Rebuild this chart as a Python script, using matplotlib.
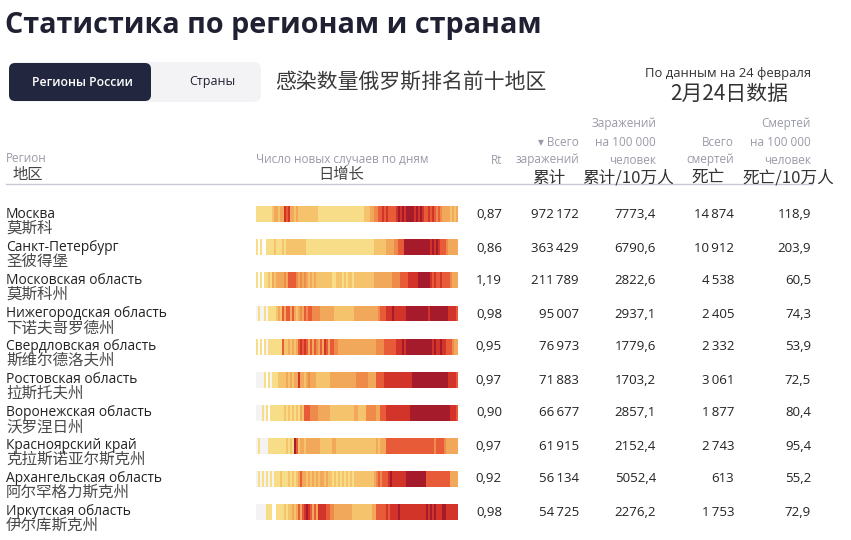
import numpy as np
import matplotlib
matplotlib.use("Agg")
import matplotlib.pyplot as plt
from matplotlib.colors import ListedColormap, BoundaryNorm
from matplotlib.patches import FancyBboxPatch

# ---------------- data ----------------
regions_ru = ["Москва", "Санкт-Петербург", "Московская область", "Нижегородская область",
              "Свердловская область", "Ростовская область", "Воронежская область",
              "Красноярский край", "Архангельская область", "Иркутская область"]
regions_zh = ["莫斯科", "圣彼得堡", "莫斯科州", "下诺夫哥罗德州", "斯维尔德洛夫州",
              "拉斯托夫州", "沃罗涅日州", "克拉斯诺亚尔斯克州", "阿尔罕格力斯克州", "伊尔库斯克州"]
rt = [0.87, 0.86, 1.19, 0.98, 0.95, 0.97, 0.90, 0.97, 0.92, 0.98]
cases = [972172, 363429, 211789, 95007, 76973, 71883, 66677, 61915, 56134, 54725]
cases_per100k = [7773.4, 6790.6, 2822.6, 2937.1, 1779.6, 1703.2, 2857.1, 2152.4, 5052.4, 2276.2]
deaths = [14874, 10912, 4538, 2405, 2332, 3061, 1877, 2743, 613, 1753]
deaths_per100k = [118.9, 203.9, 60.5, 74.3, 53.9, 72.5, 80.4, 95.4, 55.2, 72.9]

# daily new-case intensity level per period (0 = none ... 8 = max), read from strips
daily_moscow = "22222222" "3" "44" "3" "44" "767" "4" "4343" "333333333" + "2" * 23 + \
    "333" "445" "56" "67676" "666" "787878" "888" "78787" "66" "767" "6565" "4444" "3434"
daily_spb = "20200" "222232223233" "33333333" + "2" * 34 + "333333" "4444" "55" "666" + \
    "8" * 13 + "78787" "666" "54" "4444"
daily_mo = "20202" "232" "434" "444" "54" "6666" "545" "454" "343433" "333333" "22" "33323" \
    "23" "32" + "3" * 10 + "4444" "44444" "55" "556666" "77777" "888888" "767" "6676666" "5444"
daily_nn = "1211212" "222" "34364" "66" "46434" "5465" "66" "5555" "4444444" "33" "33333333" + \
    "4" * 10 + "445" "666" "77" "787" "77777" + "8" * 11 + "7" + "8" * 9 + "777" "76"
daily_sverd = "2020212" "222222" "63" "343434" "676764646" "5464764" "6655" "4444" + "4" * 14 + \
    "4" "5555" "666666" "777" "878" + "8" * 12 + "787" "7877" "66" "6544"
daily_rostov = "11112021" "222" "333" "3434344" "7" "4434" "544" "4" "3333333" + "4" * 13 + \
    "555555" "4444" "6666" + "7" * 12 + "77" + "8" * 18 + "7777" "6"
daily_voronezh = "111" "2" "1" "2" "0" "2222222" "3" "2" "323" "232" "43" "666" "5555" "44" \
    "4444" + "3" * 12 + "44" "3333" "55555" "44" "666" + "7" * 12 + "8" * 20 + "777" "6"
daily_krasn = "121111" "22" "222222" "23232" "86" "34" "434" "444444" "333333" "44" + "3" * 20 + \
    "434" "44" "66" + "6" * 18 + "6666" "5" "6666" "544" "4444"
daily_arkh = "1212121212" "22322232323" "464" "4343434344343" "3232323232" "32333" "3333333" \
    "45" "656" "66" "787" "777777" + "8" * 10 + "66666" "6666666" "44" "44"
daily_irk = "11111" "222" "00" "222" "2323" "343" "4646" "787" "6464" "7777" "6655" + "4" * 9 + \
    "3" * 10 + "44" "6" "6666" "767" "777" "87" + "7" * 11 + "787878777" "88" "777777"
daily_levels = [daily_moscow, daily_spb, daily_mo, daily_nn, daily_sverd,
                daily_rostov, daily_voronezh, daily_krasn, daily_arkh, daily_irk]

level_colors = ["#ffffff", "#f3f3f3", "#f7dd88", "#f4c36c", "#f1a85a",
                "#ee8b4b", "#e85b38", "#d2342a", "#a51b2b"]

col_headers = [["Rt"], ["▾ Всего", "заражений"], ["Заражений", "на 100 000", "человек"],
               ["Всего", "смертей"], ["Смертей", "на 100 000", "человек"]]
col_headers_zh = ["", "累计", "累计/10万人", "死亡", "死亡/10万人"]

# ---------------- style ----------------
LAT = ["Open Sans", "DejaVu Sans"]
CJK = ["Noto Sans CJK SC", "DejaVu Sans"]
DARK = "#1f2133"
GREY = "#9a9aa8"

W, H = 851, 540
fig = plt.figure(figsize=(W / 100, H / 100), dpi=100)
ax = fig.add_axes([0, 0, 1, 1])
ax.set_xlim(0, W)
ax.set_ylim(H, 0)
ax.axis("off")

# title
ax.text(5, 26, "Статистика по регионам и странам", fontsize=20.7, fontweight="bold",
        family=LAT, color=DARK, va="center", ha="left")

# tabs
ax.add_patch(FancyBboxPatch((9, 62), 252, 40, boxstyle="round,pad=0,rounding_size=8",
                            fc="#f3f3f5", ec="none"))
ax.add_patch(FancyBboxPatch((9, 63), 142, 38, boxstyle="round,pad=0,rounding_size=6",
                            fc="#23263f", ec="none"))
ax.text(82, 82, "Регионы России", fontsize=8.8, fontweight="semibold", family=LAT,
        color="white", ha="center", va="center")
ax.text(212, 82, "Страны", fontsize=9, family=LAT, color=DARK, ha="center", va="center")
ax.text(275, 82, "感染数量俄罗斯排名前十地区", fontsize=15, family=CJK, color="#3a3a3a",
        ha="left", va="center")

ax.text(811, 73, "По данным на 24 февраля", fontsize=9.4, family=LAT, color="#333333",
        ha="right", va="center")
ax.text(729, 94, "2月24日数据", fontsize=15, family=CJK, color="#333333",
        ha="center", va="center")

# header
ax.text(6, 159, "Регион", fontsize=8.5, family=LAT, color=GREY, ha="left", va="center")
ax.text(12, 174, "地区", fontsize=11, family=CJK, color="#444444", ha="left", va="center")
ax.text(256, 159, "Число новых случаев по дням", fontsize=8.5, family=LAT, color=GREY,
        ha="left", va="center")
ax.text(341, 174, "日增长", fontsize=11, family=CJK, color="#444444", ha="center", va="center")

col_right = [502, 579, 656, 734, 811]
for xr, lines in zip(col_right, col_headers):
    n = len(lines)
    for k, line in enumerate(lines):
        y = 160 - 18 * (n - 1 - k)
        ax.text(xr, y, line, fontsize=8.5, family=LAT, color=GREY, ha="right", va="center")
zh_centers = [0, 549, 628, 708, 788]
for xc, zh in zip(zh_centers, col_headers_zh):
    if zh:
        ax.text(xc, 178, zh, fontsize=12, family=CJK, color="#333333", ha="center", va="center")

ax.plot([6, 812], [184, 184], color="#c9c9d6", lw=1)

# rows
def fmt_int(v):
    return f"{v:,}".replace(",", "\u2009")

def fmt_dec(v, d):
    return f"{v:.{d}f}".replace(".", ",")

row0, dy = 214.5, 33
for i in range(len(regions_ru)):
    y = row0 + dy * i
    ax.text(6, y, regions_ru[i], fontsize=9.9, family=LAT, color="#222222",
            ha="left", va="center")
    ax.text(6, y + 14, regions_zh[i], fontsize=11.2, family=CJK, color="#4a4a4a",
            ha="left", va="center")
    vals = [fmt_dec(rt[i], 2), fmt_int(cases[i]), fmt_dec(cases_per100k[i], 1),
            fmt_int(deaths[i]), fmt_dec(deaths_per100k[i], 1)]
    for xr, s in zip(col_right, vals):
        ax.text(xr, y + 0.5, s, fontsize=9.5, family=LAT, color="#222222",
                ha="right", va="center")

# heatmap strips
hx = fig.add_axes([256 / W, (H - (row0 + dy * 9.5)) / H, 202 / W, dy * 10 / H])
cmap = ListedColormap(level_colors)
norm = BoundaryNorm(np.arange(-0.5, len(level_colors) + 0.5), cmap.N)
half = 8 / dy
maxlen = max(len(s) for s in daily_levels)
for i, s in enumerate(daily_levels):
    vals = np.array([int(c) for c in s])[None, :]
    hx.pcolormesh(np.arange(len(s) + 1), [i - half, i + half], vals, cmap=cmap, norm=norm,
                  shading="flat")
hx.set_xlim(0, maxlen)
hx.set_ylim(9.5, -0.5)
hx.axis("off")

fig.savefig("out.png", dpi=100)
